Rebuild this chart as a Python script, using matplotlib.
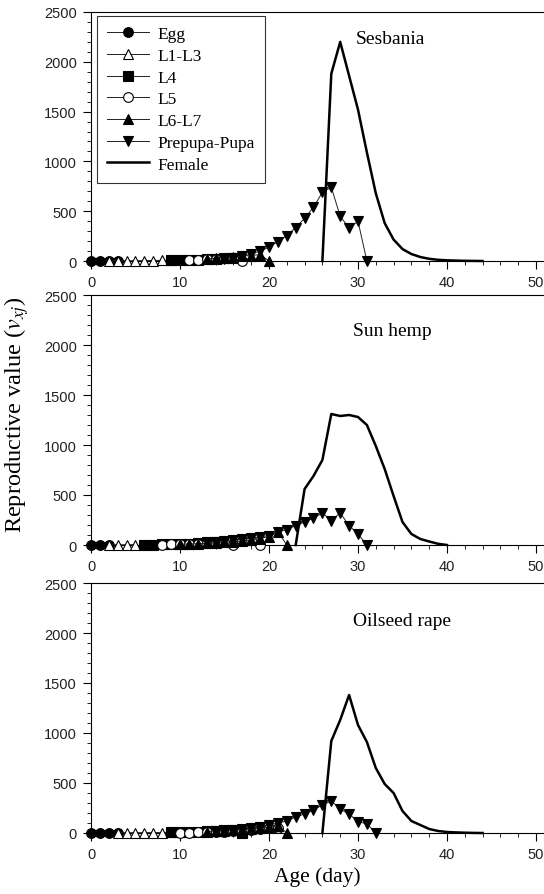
import numpy as np
import matplotlib
matplotlib.use("Agg")
import matplotlib.pyplot as plt
from matplotlib.ticker import MultipleLocator

# ---- data (reproductive value v_xj by age) ----
plants = ["Sesbania", "Sun hemp", "Oilseed rape"]

# Sesbania
ses_egg_days = [0, 1, 2, 3]
ses_egg = [1, 1, 2, 2]
ses_l13_days = [2, 3, 4, 5, 6, 7, 8, 9]
ses_l13 = [2, 2, 3, 3, 4, 5, 6, 7]
ses_l4_days = [9, 10, 11, 12, 13, 14, 15, 16]
ses_l4 = [8, 10, 12, 15, 18, 22, 27, 33]
ses_l5_days = [11, 12, 13, 14, 15, 16, 17]
ses_l5 = [12, 15, 18, 22, 28, 35, 0]
ses_l67_days = [13, 14, 15, 16, 17, 18, 19, 20]
ses_l67 = [20, 26, 33, 40, 50, 55, 65, 0]
ses_pupa_days = list(range(15, 32))
ses_pupa = [25, 35, 50, 70, 100, 140, 195, 255, 335, 430, 540, 690, 740, 450, 330, 400, 0]
ses_fem_days = list(range(26, 45))
ses_fem = [0, 1880, 2200, 1860, 1520, 1090, 680, 380, 215, 120, 70, 40, 22, 12, 7, 4, 2, 1, 0]

# Sun hemp
sun_egg_days = [0, 1, 2]
sun_egg = [1, 1, 2]
sun_l13_days = [2, 3, 4, 5]
sun_l13 = [2, 2, 3, 3]
sun_l4_days = [6, 7, 8, 9, 10, 11, 12, 13, 14]
sun_l4 = [4, 5, 6, 8, 10, 13, 17, 22, 28]
sun_l5_days = [8, 9, 10, 11, 12, 13, 14, 15, 16, 17, 18, 19]
sun_l5 = [5, 6, 8, 10, 13, 17, 22, 28, 0, 40, 47, 0]
sun_l67_days = list(range(10, 23))
sun_l67 = [8, 10, 13, 16, 20, 26, 33, 42, 52, 65, 85, 135, 0]
sun_pupa_days = list(range(13, 32))
sun_pupa = [27, 33, 43, 50, 60, 70, 80, 95, 130, 155, 195, 230, 270, 320, 245, 320, 195, 110, 0]
sun_fem_days = list(range(23, 41))
sun_fem = [0, 560, 690, 850, 1310, 1290, 1300, 1280, 1200, 990, 760, 490, 230, 110, 60, 35, 12, 0]

# Oilseed rape
oil_egg_days = [0, 1, 2, 3]
oil_egg = [1, 1, 2, 2]
oil_l13_days = [3, 4, 5, 6, 7, 8, 9]
oil_l13 = [2, 3, 3, 4, 4, 5, 6]
oil_l4_days = [9, 10, 11, 12, 13, 14, 15, 16, 17]
oil_l4 = [7, 9, 11, 14, 17, 21, 26, 30, 0]
oil_l5_days = list(range(10, 22))
oil_l5 = [3, 5, 7, 9, 12, 15, 19, 24, 30, 38, 48, 55]
oil_l67_days = list(range(13, 23))
oil_l67 = [15, 18, 22, 27, 33, 40, 50, 60, 75, 0]
oil_pupa_days = list(range(14, 33))
oil_pupa = [20, 25, 30, 38, 50, 60, 80, 100, 120, 160, 190, 230, 280, 320, 240, 190, 115, 90, 0]
oil_fem_days = list(range(26, 45))
oil_fem = [0, 920, 1130, 1380, 1080, 910, 650, 490, 400, 220, 120, 80, 40, 20, 10, 6, 3, 1, 0]

stage_names = ["Egg", "L1-L3", "L4", "L5", "L6-L7", "Prepupa-Pupa", "Female"]

panels = [
    [(ses_egg_days, ses_egg), (ses_l13_days, ses_l13), (ses_l4_days, ses_l4),
     (ses_l5_days, ses_l5), (ses_l67_days, ses_l67), (ses_pupa_days, ses_pupa),
     (ses_fem_days, ses_fem)],
    [(sun_egg_days, sun_egg), (sun_l13_days, sun_l13), (sun_l4_days, sun_l4),
     (sun_l5_days, sun_l5), (sun_l67_days, sun_l67), (sun_pupa_days, sun_pupa),
     (sun_fem_days, sun_fem)],
    [(oil_egg_days, oil_egg), (oil_l13_days, oil_l13), (oil_l4_days, oil_l4),
     (oil_l5_days, oil_l5), (oil_l67_days, oil_l67), (oil_pupa_days, oil_pupa),
     (oil_fem_days, oil_fem)],
]

# marker style per stage: (marker, facecolor)
styles = [("o", "black"), ("^", "white"), ("s", "black"), ("o", "white"),
          ("^", "black"), ("v", "black"), (None, None)]

serif = ["Liberation Serif", "DejaVu Serif"]
sans = ["Liberation Sans", "DejaVu Sans"]
plt.rcParams["mathtext.fontset"] = "stix"

fig = plt.figure(figsize=(5.44, 8.95), dpi=100)

boxes = [(13, 262), (296, 546), (584, 834)]
left_px = 91
H = 895.0
W = 544.0
label_pos = [(33.6, 2230), (33.9, 2150), (35.0, 2120)]

for i, (top, bot) in enumerate(boxes):
    ax = fig.add_axes([left_px / W, 1 - bot / H, 1 - left_px / W, (bot - top) / H])
    for j, (days, vals) in enumerate(panels[i]):
        m, fc = styles[j]
        if m is None:
            ax.plot(days, vals, color="black", lw=1.8, label=stage_names[j], zorder=3)
        else:
            ax.plot(days, vals, color="#222222", lw=0.7, marker=m, ms=7,
                    mfc=fc, mec="black", mew=0.8, label=stage_names[j], zorder=4)
    ax.set_xlim(0, 50.9)
    ax.set_ylim(0, 2500)
    ax.xaxis.set_major_locator(MultipleLocator(10))
    ax.xaxis.set_minor_locator(MultipleLocator(2))
    ax.yaxis.set_major_locator(MultipleLocator(500))
    ax.yaxis.set_minor_locator(MultipleLocator(100))
    ax.tick_params(which="major", direction="out", length=6, width=0.8,
                   labelsize=10.5, pad=4)
    ax.tick_params(which="minor", direction="out", length=3, width=0.6)
    for lab in ax.get_xticklabels() + ax.get_yticklabels():
        lab.set_family(sans)
        lab.set_color("#222222")
    ax.spines["right"].set_visible(False)
    for s in ["left", "bottom", "top"]:
        ax.spines[s].set_linewidth(0.8)
    ax.text(label_pos[i][0], label_pos[i][1], plants[i], family=serif,
            fontsize=14, ha="center", va="center")
    for ln in ax.lines:
        ln.set_clip_on(False)
    if i == 0:
        leg = ax.legend(loc="upper left", bbox_to_anchor=(0.0125, 0.985),
                        borderaxespad=0, frameon=True, fancybox=False,
                        edgecolor="black", handlelength=2.4, labelspacing=0.32,
                        handletextpad=0.5, borderpad=0.6,
                        prop={"family": serif, "size": 12.5})
        leg.get_frame().set_linewidth(0.8)
    if i == 2:
        ax.set_xlabel("Age (day)", family=serif, fontsize=15.5, labelpad=4)

fig.text(0.031, 0.537, r"Reproductive value ($v_{xj}$)", rotation=90,
         ha="center", va="center", family=serif, fontsize=17.5)

fig.savefig("out.png", dpi=100)
